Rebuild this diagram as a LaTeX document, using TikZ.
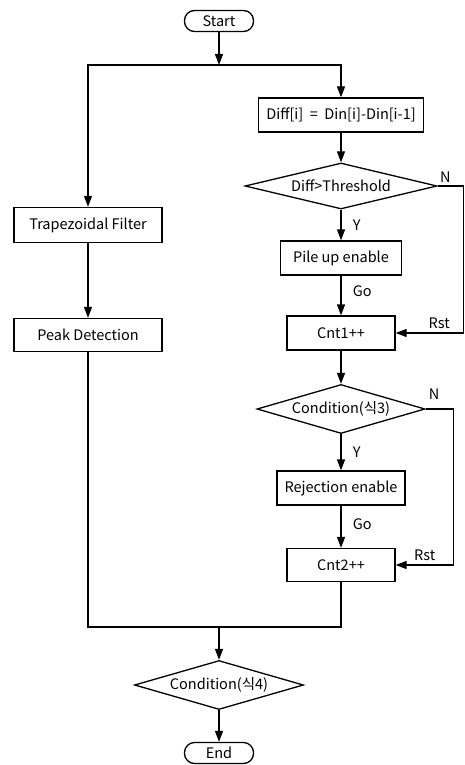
\documentclass[tikz,border=0pt]{standalone}
\usepackage{fontspec}
\setmainfont{Noto Sans CJK KR}
\usepackage{tikz}
\usetikzlibrary{shapes.geometric, arrows.meta, positioning, calc}
\tikzstyle{startstop} = [rectangle, rounded corners=10pt, minimum width=69pt, minimum height=21pt, inner sep=0pt, text centered, draw=black, line width=1.3pt]
\tikzstyle{process} = [rectangle, minimum height=34pt, inner sep=0pt, text centered, draw=black, line width=1.3pt]
\tikzstyle{decision} = [diamond, aspect=3.4, inner sep=0pt, text centered, draw=black, line width=1.3pt]
\tikzstyle{arrow} = [line width=1.3pt, -{Triangle[length=11pt,width=8pt]}]
\tikzstyle{line} = [line width=1.3pt]

\begin{document}
\begin{tikzpicture}[font=\fontsize{14.5}{16}\selectfont]
    \useasboundingbox (0,0) rectangle (465pt,-765pt);
    \node (start) [startstop] at (219pt,-21pt) {Start};
    \node (diff) [process, minimum width=165pt, node distance=94pt, below of=start, xshift=122pt] {Diff[i]\ \ =\ \ Din[i]-Din[i-1]};
    \node (thr) [decision, aspect=4.2, minimum width=192pt, minimum height=46pt, node distance=71pt, below of=diff] {Diff>Threshold};
    \node (pile) [process, minimum width=121pt, node distance=72pt, below of=thr] {Pile up enable};
    \node (cnt1) [process, minimum width=108pt, node distance=75pt, below of=pile] {Cnt1++};
    \node (cond3) [decision, minimum width=168pt, minimum height=49pt, node distance=76pt, below of=cnt1] {Condition(식3)};
    \node (rej) [process, minimum width=128pt, node distance=79pt, below of=cond3] {Rejection enable};
    \node (cnt2) [process, minimum width=108pt, minimum height=33pt, node distance=77pt, below of=rej] {Cnt2++};
    \node (trap) [process, minimum width=148pt, minimum height=35pt, node distance=204pt, below of=start, xshift=-131pt] {Trapezoidal Filter};
    \node (peak) [process, minimum width=148pt, minimum height=33pt, node distance=110pt, below of=trap] {Peak Detection};
    \node (cond4) [decision, minimum width=169pt, minimum height=49pt, node distance=664pt, below of=start] {Condition(식4)};
    \node (end) [startstop, node distance=68pt, below of=cond4] {End};

    \coordinate (split) at ($(start)+(0,-44pt)$);
    \coordinate (merge) at ($(cond4)+(0,58pt)$);

    \draw [arrow] (start) -- (split);
    \draw [arrow] (split) -| (trap);
    \draw [arrow] (split) -| (diff);
    \draw [arrow] (trap) -- (peak);
    \draw [arrow] (diff) -- (thr);
    \draw [arrow] (thr) -- node[right, xshift=8pt] {Y} (pile);
    \draw [arrow] (pile) -- node[right, xshift=8pt, pos=0.4] {Go} (cnt1);
    \draw [arrow] (cnt1) -- (cond3);
    \draw [arrow] (cond3) -- node[right, xshift=8pt] {Y} (rej);
    \draw [arrow] (rej) -- node[right, xshift=8pt, pos=0.45] {Go} (cnt2);
    % Reset loops
    \draw [arrow] (thr.east) -- node[above, pos=0.3] {N} ++(26pt,0) |- node[above, pos=0.68] {Rst} (cnt1.east);
    \draw [arrow] (cond3.east) -- node[above, pos=0.3, yshift=6pt] {N} ++(28pt,0) |- node[above, pos=0.75] {Rst} (cnt2.east);
    % Merge to final check
    \draw [line] (peak) |- (merge);
    \draw [line] (cnt2) |- (merge);
    \draw [arrow] (merge) -- (cond4);
    \draw [arrow] (cond4) -- (end);
  \end{tikzpicture}
\end{document}
